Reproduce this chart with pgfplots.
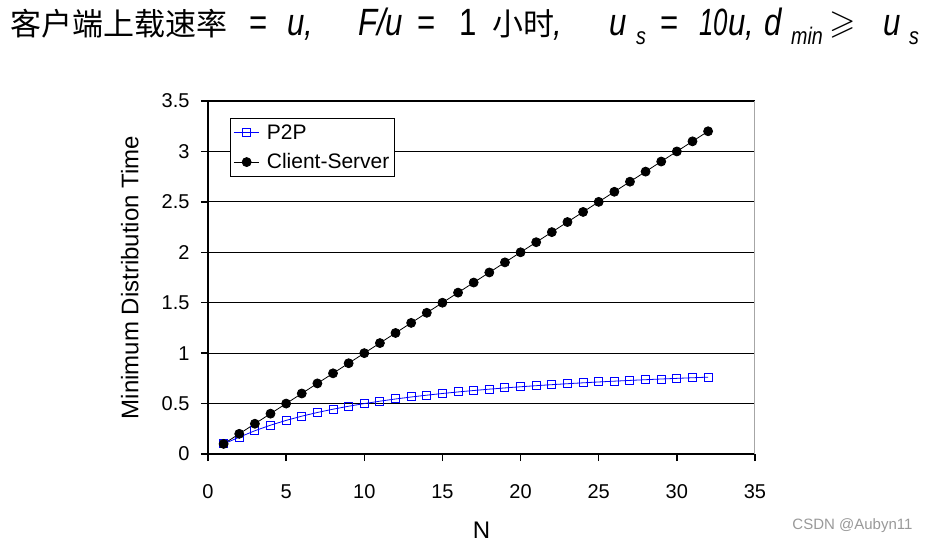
\documentclass[border=0pt]{standalone}
\usepackage{amssymb}
\usepackage{fontspec}
\setmainfont{Liberation Sans}
\newfontfamily\cjk{Noto Sans CJK SC}
\newfontfamily\narrow[FakeStretch=0.82]{Liberation Sans}
\newfontfamily\narrowdig[FakeStretch=0.68]{Liberation Sans}
\usepackage{pgfplots}
\pgfplotsset{compat=1.18}
\newcommand{\tfs}{\fontsize{38}{40}\selectfont}
\newcommand{\cfs}{\fontsize{31}{36}\selectfont}
\newcommand{\sfs}{\fontsize{24}{24}\selectfont}
\begin{document}
\begin{tikzpicture}
\begin{axis}[
  anchor=origin,
  scale only axis, width=547pt, height=353pt,
  xmin=0, xmax=35, ymin=0, ymax=3.5,
  xtick={0,5,...,35}, ytick={0,0.5,...,3.5},
  axis lines=left, axis line style={-, black, line width=1.5pt},
  ymajorgrids, grid style={black, line width=1.2pt},
  tick align=outside, major tick length=7pt,
  tick style={black, line width=1.5pt},
  /pgf/number format/assume math mode=true,
  ticklabel style={font=\fontsize{20}{20}\selectfont},
  yticklabel style={xshift=-8pt},
  xticklabel style={yshift=-20pt},
  xlabel={N}, ylabel={Minimum Distribution Time},
  label style={font=\fontsize{24}{24}\selectfont},
  xlabel style={at={(axis description cs:0.5,-0.215)}, anchor=center},
  ylabel style={at={(axis description cs:-0.143,0.5)}, anchor=center},
  legend style={at={(0.04,0.952)}, anchor=north west, draw=black, line width=1.2pt,
    font=\fontsize{21}{21}\selectfont, row sep=9pt, column sep=5pt,
    inner xsep=3pt, inner ysep=4pt, legend cell align=left},
  legend image code/.code={\draw[mark repeat=2,mark phase=2,#1] plot coordinates {(0cm,0cm)(0.45cm,0cm)(0.9cm,0cm)};},
  clip=false,
]
\draw[gray!70, line width=1pt] (rel axis cs:1,0) -- (rel axis cs:1,1);
\addplot[blue, line width=0.8pt, mark=square, mark size=4pt, mark options={line width=1pt, fill=none}] coordinates {
(1,0.1)(2,0.1667)(3,0.2308)(4,0.2857)(5,0.3333)(6,0.375)(7,0.4118)(8,0.4444)
(9,0.4737)(10,0.5)(11,0.5238)(12,0.5455)(13,0.5652)(14,0.5833)(15,0.6)(16,0.6154)
(17,0.6296)(18,0.6429)(19,0.6552)(20,0.6667)(21,0.6774)(22,0.6875)(23,0.6970)(24,0.7059)
(25,0.7143)(26,0.7222)(27,0.7297)(28,0.7368)(29,0.7436)(30,0.75)(31,0.7561)(32,0.7619)};
\addlegendentry{P2P}
\addplot[black, line width=0.8pt, mark=*, mark size=4.5pt] coordinates {
(1,0.1)(2,0.2)(3,0.3)(4,0.4)(5,0.5)(6,0.6)(7,0.7)(8,0.8)
(9,0.9)(10,1.0)(11,1.1)(12,1.2)(13,1.3)(14,1.4)(15,1.5)(16,1.6)
(17,1.7)(18,1.8)(19,1.9)(20,2.0)(21,2.1)(22,2.2)(23,2.3)(24,2.4)
(25,2.5)(26,2.6)(27,2.7)(28,2.8)(29,2.9)(30,3.0)(31,3.1)(32,3.2)};
\addlegendentry{Client-Server}
\end{axis}
\begin{scope}[x=1pt,y=1pt,shift={(-208pt,-88pt)}]
\path[use as bounding box] (0,0) rectangle (930,542);
\tikzset{tt/.style={anchor=base west,inner sep=0}}
\node[tt] at (10,506) {\cfs\cjk 客户端上载速率};
\node[tt] at (249,506) {\tfs\narrow =};
\node[tt] at (287,506) {\tfs\narrow\itshape u,};
\node[tt] at (358,506) {\tfs\narrow\itshape F/u};
\node[tt] at (417,506) {\tfs\narrow =};
\node[tt] at (459,506) {\tfs\narrow 1};
\node[tt] at (492,506) {\cfs\cjk 小时};
\node[tt] at (553,506) {\tfs\narrow\itshape ,};
\node[tt] at (609,506) {\tfs\narrow\itshape u};
\node[tt] at (636,497) {\sfs\narrow\itshape s};
\node[tt] at (660,506) {\tfs\narrow =};
\node[tt] at (699,506) {\tfs\narrowdig\itshape 10};
\node[tt] at (728,506) {\tfs\narrow\itshape u,};
\node[tt] at (764,506) {\tfs\narrow\itshape d};
\node[tt] at (791,497) {\sfs\narrow\itshape min};
\node[tt] at (829,508) {\fontsize{34}{34}\selectfont$\geqslant$};
\node[tt] at (883,506) {\tfs\narrow\itshape u};
\node[tt] at (909,497) {\sfs\narrow\itshape s};
\node[anchor=east, text=gray!80, font=\fontsize{15}{15}\selectfont] at (916,16) {CSDN @Aubyn11};
\end{scope}
\end{tikzpicture}
\end{document}
